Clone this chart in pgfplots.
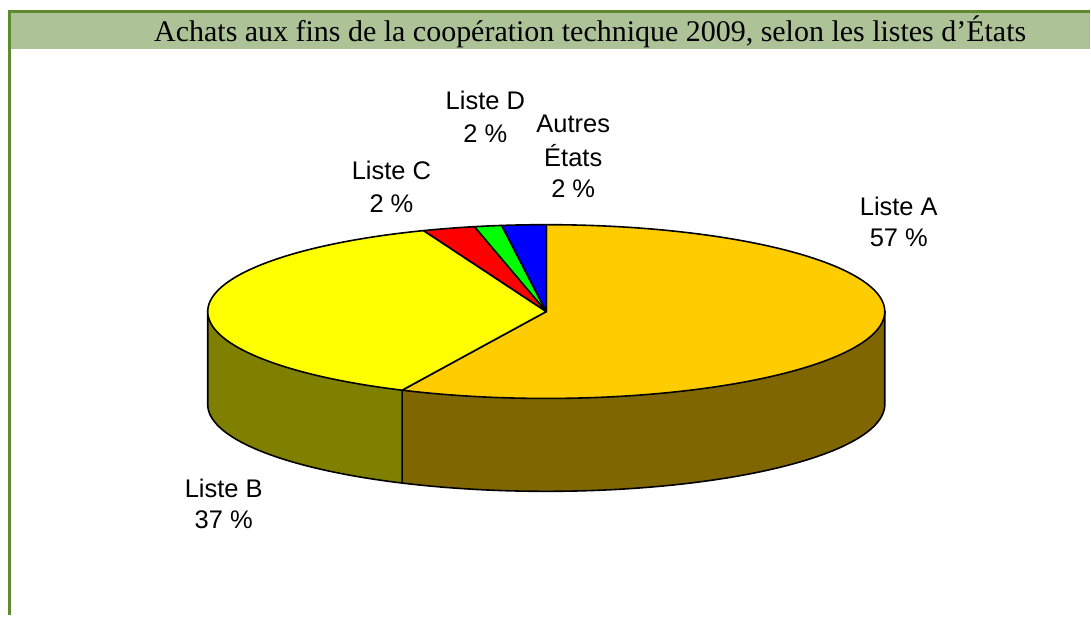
\documentclass[border=0pt]{standalone}
\usepackage{pgfplots}
\pgfplotsset{compat=1.18}
\usepackage{fontspec}
\setmainfont{Liberation Serif}
\newfontfamily\arial{Liberation Sans}
\definecolor{frameG}{HTML}{5F8B2F}
\definecolor{bandG}{HTML}{ADC397}
\definecolor{topA}{HTML}{FFCC00}
\definecolor{sideA}{HTML}{806600}
\definecolor{topB}{HTML}{FFFF00}
\definecolor{sideB}{HTML}{808000}
\definecolor{colC}{HTML}{FF0000}
\definecolor{colD}{HTML}{00FF00}
\definecolor{colE}{HTML}{0000FF}
% shares (percent)
\def\vA{57}   % Liste A
\def\vB{37.1} % Liste B
\def\vC{2.5}  % Liste C
\def\vD{1.3}  % Liste D
\def\vE{2.1}  % Autres Etats
% geometry (pixels)
\def\cx{547}\def\cy{312}\def\Rx{339}\def\Ry{87}\def\dz{93}
\pgfmathsetmacro\aO{90}
\pgfmathsetmacro\aA{\aO-3.6*\vA}
\pgfmathsetmacro\aB{\aA-3.6*\vB}
\pgfmathsetmacro\aC{\aB-3.6*\vC}
\pgfmathsetmacro\aD{\aC-3.6*\vD}
\pgfmathsetmacro\aE{\aD-3.6*\vE}
\pgfmathsetmacro\xA{\cx+\Rx*cos(\aA)}
\pgfmathsetmacro\yA{\cy-\Ry*sin(\aA)}
\pgfmathsetmacro\xR{\cx+\Rx}
\pgfmathsetmacro\xL{\cx-\Rx}
\newcommand\lab[3]{\node[font=\arial\fontsize{25.5}{30}\selectfont,anchor=base] at (axis cs:#1,#2) {#3};}
\begin{document}
\begin{tikzpicture}
\begin{axis}[scale only axis, width=1091pt, height=616pt,
  xmin=0, xmax=1091, ymin=0, ymax=616, y dir=reverse,
  hide axis, clip=false]
\path (axis cs:0,0) rectangle (axis cs:1091,616);
% frame and title band
\fill[bandG] (axis cs:10,12) rectangle (axis cs:1091,49);
\draw[frameG, line width=3pt] (axis cs:10,616) -- (axis cs:10,12) -- (axis cs:1091,12);
\node[font=\fontsize{30}{34}\selectfont, anchor=base] at (axis cs:591,41.5)
  {Achats aux fins de la coopération technique 2009, selon les listes d’États};
% side walls
\addplot[fill=sideA, draw=black, line width=1.6pt, line join=round, domain=\aA:0, samples=120, variable=\t]
  ({\cx+\Rx*cos(\t)},{\cy+\dz-\Ry*sin(\t)})
  -- (axis cs:\xR,\cy) -- (axis cs:\cx,\cy) -- (axis cs:\xA,\yA) -- cycle;
\addplot[fill=sideB, draw=black, line width=1.6pt, line join=round, domain=-180:\aA, samples=80, variable=\t]
  ({\cx+\Rx*cos(\t)},{\cy+\dz-\Ry*sin(\t)})
  -- (axis cs:\xA,\yA) -- (axis cs:\cx,\cy) -- (axis cs:\xL,\cy) -- cycle;
% top faces
\addplot[fill=topA, draw=black, line width=1.6pt, line join=round, domain=\aA:\aO, samples=150, variable=\t]
  ({\cx+\Rx*cos(\t)},{\cy-\Ry*sin(\t)}) -- (axis cs:\cx,\cy) -- cycle;
\addplot[fill=topB, draw=black, line width=1.6pt, line join=round, domain=\aB:\aA, samples=120, variable=\t]
  ({\cx+\Rx*cos(\t)},{\cy-\Ry*sin(\t)}) -- (axis cs:\cx,\cy) -- cycle;
\addplot[fill=colC, draw=black, line width=1.6pt, line join=round, domain=\aC:\aB, samples=20, variable=\t]
  ({\cx+\Rx*cos(\t)},{\cy-\Ry*sin(\t)}) -- (axis cs:\cx,\cy) -- cycle;
\addplot[fill=colD, draw=black, line width=1.6pt, line join=round, domain=\aD:\aC, samples=20, variable=\t]
  ({\cx+\Rx*cos(\t)},{\cy-\Ry*sin(\t)}) -- (axis cs:\cx,\cy) -- cycle;
\addplot[fill=colE, draw=black, line width=1.6pt, line join=round, domain=\aE:\aD, samples=20, variable=\t]
  ({\cx+\Rx*cos(\t)},{\cy-\Ry*sin(\t)}) -- (axis cs:\cx,\cy) -- cycle;
% labels
\lab{900}{216}{Liste A}
\lab{900}{247}{57 \%}
\lab{224}{498}{Liste B}
\lab{224}{529}{37 \%}
\lab{392}{180}{Liste C}
\lab{392}{213}{2 \%}
\lab{486}{110}{Liste D}
\lab{486}{143}{2 \%}
\lab{574}{133}{Autres}
\lab{574}{167}{États}
\lab{574}{198}{2 \%}
\end{axis}
\end{tikzpicture}
\end{document}
